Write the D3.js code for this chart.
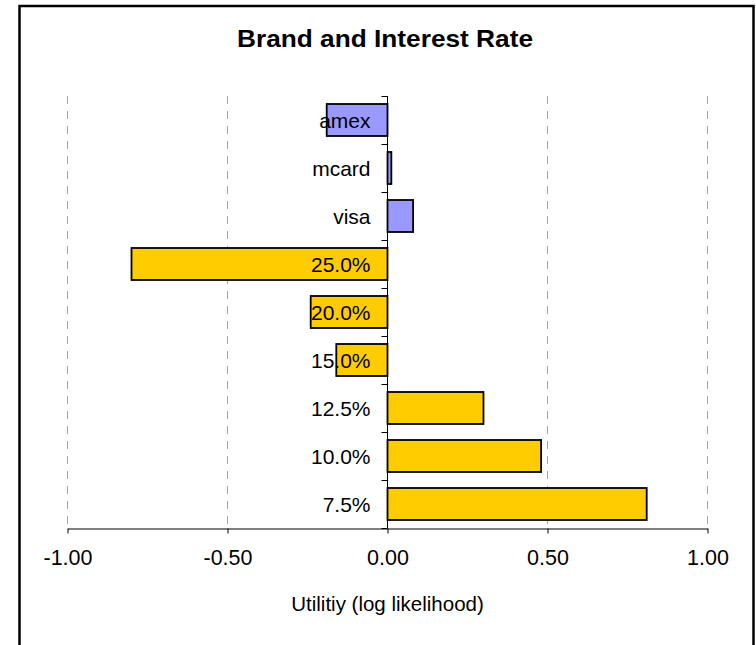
<!DOCTYPE html>
<html>
<head>
<meta charset="utf-8">
<script src="https://cdn.jsdelivr.net/npm/d3@7"></script>
<style>
  body { margin: 0; background: #fff; }
  text { font-family: "Liberation Sans", Arial, sans-serif; }
</style>
</head>
<body>
<svg id="drawing_region"></svg>
<script>
// values
const categories = ['amex', 'mcard', 'visa', '25.0%', '20.0%', '15.0%', '12.5%', '10.0%', '7.5%'];
const utilities = [-0.19, 0.012, 0.08, -0.80, -0.24, -0.16, 0.30, 0.48, 0.81];
const groups = ['brand', 'brand', 'brand', 'rate', 'rate', 'rate', 'rate', 'rate', 'rate'];
const xTicks = [-1.0, -0.5, 0.0, 0.5, 1.0];
const groupColors = { brand: '#9999ff', rate: '#ffcc00' };

const data = categories.map((c, i) => ({ label: c, value: utilities[i], group: groups[i] }));

var config = {
    parent: '#drawing_region',
    width: 756,
    height: 645,
    margin: {top: 96, right: 48.5, bottom: 117, left: 67.5}
};

const svg = d3.select(config.parent)
    .attr('width', config.width)
    .attr('height', config.height);

// outer frame (bottom edge runs off the picture)
svg.append('rect')
    .attr('x', 19.5).attr('y', 6)
    .attr('width', 734).attr('height', 700)
    .attr('fill', '#fff')
    .attr('stroke', '#000')
    .attr('stroke-width', 2.5);

const inner_width = config.width - config.margin.left - config.margin.right;
const inner_height = config.height - config.margin.top - config.margin.bottom;

const chart = svg.append('g')
    .attr('transform', `translate(${config.margin.left}, ${config.margin.top})`);

const xscale = d3.scaleLinear()
    .domain([-1, 1])
    .range([0, inner_width]);

const yscale = d3.scaleBand()
    .domain(categories)
    .range([0, inner_height])
    .paddingInner(1/3)
    .paddingOuter(1/6);

// dashed grid
chart.selectAll('.grid')
    .data(xTicks.filter(d => d !== 0))
    .enter()
    .append('line')
    .attr('x1', d => xscale(d)).attr('x2', d => xscale(d))
    .attr('y1', 0).attr('y2', inner_height)
    .attr('stroke', '#a6a6a6')
    .attr('stroke-dasharray', '8,7');

// bars
chart.selectAll('.bar')
    .data(data)
    .enter()
    .append('rect')
    .attr('x', d => xscale(Math.min(0, d.value)))
    .attr('y', d => yscale(d.label))
    .attr('width', d => Math.abs(xscale(d.value) - xscale(0)))
    .attr('height', yscale.bandwidth())
    .attr('fill', d => groupColors[d.group])
    .attr('stroke', '#000')
    .attr('stroke-width', 1.8);

// x axis
const xaxis = d3.axisBottom(xscale)
    .tickValues(xTicks)
    .tickSize(5)
    .tickSizeOuter(0)
    .tickPadding(16)
    .tickFormat(d => d.toFixed(2));

const xaxis_group = chart.append('g')
    .attr('transform', `translate(0, ${inner_height + 0.5})`)
    .call(xaxis);
xaxis_group.selectAll('text')
    .attr('font-size', 21.5)
    .attr('font-family', '"Liberation Sans", Arial, sans-serif')
    .attr('fill', '#000');
xaxis_group.selectAll('line, path').attr('stroke', '#000');

// y axis at zero, ticks on category boundaries
const yline = chart.append('g')
    .attr('transform', `translate(${xscale(0)}, 0)`);
yline.append('line')
    .attr('y1', 0).attr('y2', inner_height)
    .attr('stroke', '#000');
yline.selectAll('.btick')
    .data(d3.range(categories.length + 1))
    .enter()
    .append('line')
    .attr('x1', -6).attr('x2', 0)
    .attr('y1', i => i * yscale.step() + 0.5)
    .attr('y2', i => i * yscale.step() + 0.5)
    .attr('stroke', '#000');

// category labels, drawn over the bars
chart.selectAll('.cat')
    .data(data)
    .enter()
    .append('text')
    .attr('x', xscale(0) - 17)
    .attr('y', d => yscale(d.label) + yscale.bandwidth() / 2)
    .attr('dy', '0.36em')
    .attr('text-anchor', 'end')
    .attr('font-size', 21)
    .text(d => d.label);

// titles
svg.append('text')
    .attr('x', 385)
    .attr('y', 47)
    .attr('text-anchor', 'middle')
    .attr('font-size', 23)
    .attr('font-weight', 'bold')
    .attr('textLength', 296)
    .attr('lengthAdjust', 'spacingAndGlyphs')
    .text('Brand and Interest Rate');

svg.append('text')
    .attr('x', config.margin.left + xscale(0))
    .attr('y', 611)
    .attr('text-anchor', 'middle')
    .attr('font-size', 20.5)
    .text('Utilitiy (log likelihood)');
</script>
</body>
</html>
